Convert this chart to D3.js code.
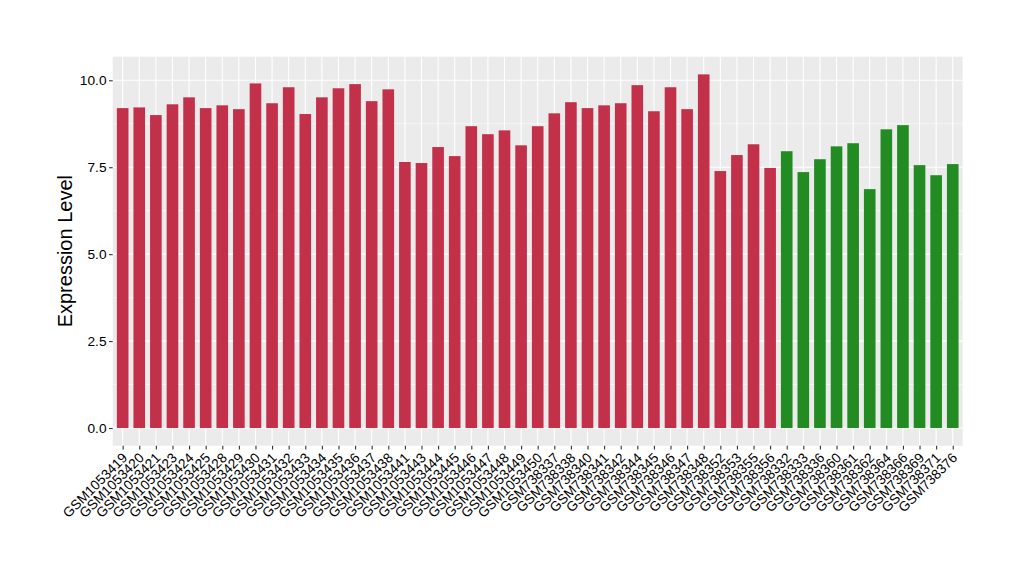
<!DOCTYPE html>
<html>
<head>
<meta charset="utf-8">
<script src="https://cdn.jsdelivr.net/npm/d3@7/dist/d3.min.js"></script>
<style>
body { margin: 0; background: #fff; }
text { font-family: "Liberation Sans", Arial, Helvetica, sans-serif; }
</style>
</head>
<body>
<svg id="chart" width="1020" height="580"></svg>
<script>
const samples = [
  "GSM1053419","GSM1053420","GSM1053421","GSM1053423","GSM1053424","GSM1053425","GSM1053428","GSM1053429",
  "GSM1053430","GSM1053431","GSM1053432","GSM1053433","GSM1053434","GSM1053435","GSM1053436","GSM1053437",
  "GSM1053438","GSM1053441","GSM1053443","GSM1053444","GSM1053445","GSM1053446","GSM1053447","GSM1053448",
  "GSM1053449","GSM1053450","GSM738337","GSM738338","GSM738340","GSM738341","GSM738342","GSM738344",
  "GSM738345","GSM738346","GSM738347","GSM738348","GSM738352","GSM738353","GSM738355","GSM738356",
  "GSM738332","GSM738333","GSM738336","GSM738360","GSM738361","GSM738362","GSM738364","GSM738366",
  "GSM738369","GSM738371","GSM738376"
];
const values = [
  9.20, 9.22, 9.00, 9.31, 9.51, 9.20, 9.28, 9.17,
  9.91, 9.34, 9.80, 9.03, 9.51, 9.77, 9.89, 9.40,
  9.74, 7.65, 7.62, 8.08, 7.82, 8.68, 8.45, 8.56,
  8.13, 8.68, 9.05, 9.37, 9.20, 9.28, 9.34, 9.86,
  9.11, 9.80, 9.17, 10.17, 7.39, 7.85, 8.16, 7.48,
  7.96, 7.36, 7.73, 8.10, 8.19, 6.87, 8.59, 8.71,
  7.56, 7.27, 7.59
];
const groups = [
  "A","A","A","A","A","A","A","A","A","A","A","A","A","A","A","A","A","A","A","A","A","A","A","A","A","A",
  "A","A","A","A","A","A","A","A","A","A","A","A","A","A",
  "B","B","B","B","B","B","B","B","B","B","B"
];
const groupColors = { A: "#C3304A", B: "#228B22" };
const yTicks = [0, 2.5, 5, 7.5, 10];
const yMinor = [1.25, 3.75, 6.25, 8.75];
const yTitle = "Expression Level";

const svg = d3.select("#chart");
const panel = { left: 112.7, right: 962.7, top: 56.7, bottom: 445.7 };

const n = samples.length;
const x = d3.scaleLinear().domain([1 - 0.6, n + 0.6]).range([panel.left, panel.right]);
const maxV = d3.max(values);
const y = d3.scaleLinear().domain([-0.05 * maxV, maxV * 1.05]).range([panel.bottom, panel.top]);

// panel background
svg.append("rect").attr("x", panel.left).attr("y", panel.top)
  .attr("width", panel.right - panel.left).attr("height", panel.bottom - panel.top)
  .attr("fill", "#EBEBEB");

const grid = svg.append("g");
yMinor.forEach(v => {
  grid.append("line").attr("x1", panel.left).attr("x2", panel.right)
    .attr("y1", y(v)).attr("y2", y(v)).attr("stroke", "#fff").attr("stroke-width", 0.55);
});
yTicks.forEach(v => {
  grid.append("line").attr("x1", panel.left).attr("x2", panel.right)
    .attr("y1", y(v)).attr("y2", y(v)).attr("stroke", "#fff").attr("stroke-width", 1.1);
});
samples.forEach((s, i) => {
  grid.append("line").attr("x1", x(i + 1)).attr("x2", x(i + 1))
    .attr("y1", panel.top).attr("y2", panel.bottom).attr("stroke", "#fff").attr("stroke-width", 1.1);
});

// bars
const bw = (x(2) - x(1)) * 0.7;
svg.append("g").selectAll("rect").data(values).join("rect")
  .attr("x", (d, i) => x(i + 1) - bw / 2)
  .attr("width", bw)
  .attr("y", d => y(d))
  .attr("height", d => y(0) - y(d))
  .attr("fill", (d, i) => groupColors[groups[i]]);

// y axis
const yAxis = d3.axisLeft(y).tickValues(yTicks).tickFormat(d3.format(".1f")).tickSize(3.7).tickPadding(2.5);
const ya = svg.append("g").attr("transform", `translate(${panel.left},0)`).call(yAxis);
ya.select(".domain").remove();
ya.selectAll(".tick line").attr("stroke", "#333").attr("stroke-width", 1.1);
ya.selectAll(".tick text").attr("fill", "#000").attr("font-size", "13.7px")
  .attr("font-family", "'Liberation Sans', Arial, sans-serif");

// x axis
const xAxis = d3.axisBottom(x).tickValues(d3.range(1, n + 1)).tickFormat(d => samples[d - 1]).tickSize(3.7);
const xa = svg.append("g").attr("transform", `translate(0,${panel.bottom})`).call(xAxis);
xa.select(".domain").remove();
xa.selectAll(".tick line").attr("stroke", "#333").attr("stroke-width", 1.1);
xa.selectAll(".tick text")
  .attr("fill", "#000").attr("font-size", "13.7px")
  .attr("font-family", "'Liberation Sans', Arial, sans-serif")
  .attr("text-anchor", "end")
  .attr("y", 0).attr("dy", 0)
  .attr("transform", "translate(5,13) rotate(-45)");

// y title
svg.append("text")
  .attr("transform", `translate(72,${(panel.top + panel.bottom) / 2}) rotate(-90)`)
  .attr("text-anchor", "middle")
  .attr("font-size", "20px")
  .attr("fill", "#000")
  .text(yTitle);
</script>
</body>
</html>
